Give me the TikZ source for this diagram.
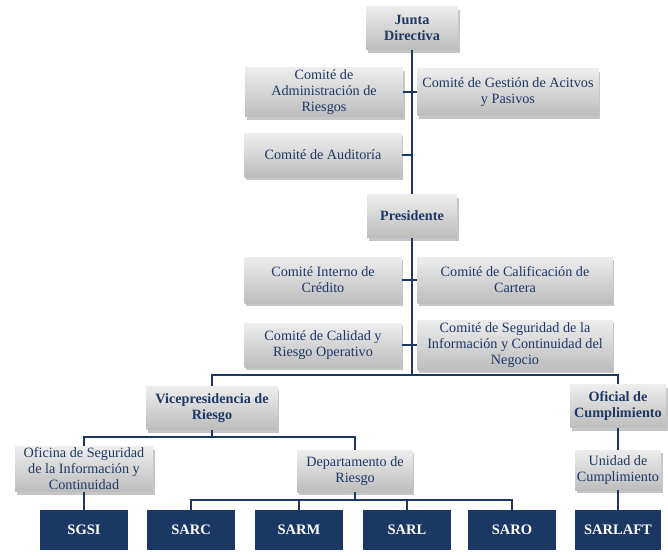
\documentclass[tikz,border=0pt]{standalone}
\usepackage{fontspec}
\setmainfont{Liberation Serif}
\usetikzlibrary{shadows}

\definecolor{azul}{HTML}{1F3864}
\definecolor{marino}{HTML}{1B3764}

\begin{document}
\begin{tikzpicture}[x=1pt, y=-1pt,
    comite/.style={top color=white!93!black, bottom color=white!74!black,
        drop shadow={shadow xshift=1.5pt, shadow yshift=-3pt, opacity=0.45},
        text=azul, align=center, inner sep=1pt,
        font=\fontsize{14.2}{16}\selectfont},
    jefe/.style={comite, font=\bfseries\fontsize{14.2}{16}\selectfont},
    sistema/.style={fill=marino, text=white, inner sep=1pt,
        minimum width=88pt, minimum height=40pt,
        font=\bfseries\fontsize{14.5}{16}\selectfont},
    linea/.style={draw=marino, line width=2.8pt}]

    \useasboundingbox (0,0) rectangle (668,555);

    % --- Junta y comites ---
    \node[jefe, minimum width=92pt, minimum height=43pt] (junta) at (412,28) {Junta\\Directiva};
    \node[comite, minimum width=158pt, minimum height=49pt] (adm) at (324,92) {Comité de\\Administración de\\Riesgos};
    \node[comite, minimum width=181pt, minimum height=47pt] (gestion) at (508,92) {Comité de Gestión de Acitvos\\y Pasivos};
    \node[comite, minimum width=157pt, minimum height=44pt] (auditoria) at (323,155) {Comité de Auditoría};

    % --- Presidencia y comites ---
    \node[jefe, minimum width=90pt, minimum height=43pt] (presidente) at (412,216) {Presidente};
    \node[comite, minimum width=157pt, minimum height=46pt] (interno) at (323,280) {Comité Interno de\\Crédito};
    \node[comite, minimum width=195pt, minimum height=46pt] (calificacion) at (515,280) {Comité de Calificación de\\Cartera};
    \node[comite, minimum width=157pt, minimum height=44pt] (calidad) at (323,345) {Comité de Calidad y\\Riesgo Operativo};
    \node[comite, minimum width=195pt, minimum height=50pt] (seguridad) at (515,345) {Comité de Seguridad de la\\Información y Continuidad del\\Negocio};

    % --- Segundo nivel ---
    \node[jefe, minimum width=131pt, minimum height=43pt] (vice) at (212,408) {Vicepresidencia de\\Riesgo};
    \node[jefe, minimum width=96pt, minimum height=43pt] (oficial) at (618,406) {Oficial de\\Cumplimiento};
    \node[comite, minimum width=138pt, minimum height=45pt] (oficina) at (84,469) {Oficina de Seguridad\\de la Información y\\Continuidad};
    \node[comite, minimum width=115pt, minimum height=42pt] (depto) at (355,471) {Departamento de\\Riesgo};
    \node[comite, minimum width=86pt, minimum height=40pt] (unidad) at (618,470) {Unidad de\\Cumplimiento};

    % --- Sistemas ---
    \node[sistema] (sgsi) at (84,530) {SGSI};
    \node[sistema] (sarc) at (191,530) {SARC};
    \node[sistema] (sarm) at (299,530) {SARM};
    \node[sistema] (sarl) at (407,530) {SARL};
    \node[sistema] (saro) at (512,530) {SARO};
    \node[sistema, minimum width=86pt] (sarlaft) at (618,530) {SARLAFT};

    % --- Puntos de las barras ---
    \coordinate (bus) at (412,375);
    \coordinate (vbus) at (212,437);
    \coordinate (dbus) at (355,500);

    % --- Conectores ---
    \draw[linea] (junta.south) -- (presidente.north);
    \draw[linea] (adm.east) -- (gestion.west);
    \draw[linea] (auditoria.east) -- (auditoria.east -| junta.south);
    \draw[linea] (presidente.south) -- (bus);
    \draw[linea] (interno.east) -- (calificacion.west);
    \draw[linea] (calidad.east) -- (seguridad.west);
    \draw[linea] (vice.north) |- (bus) -| (oficial.north);

    \draw[linea] (vice.south) -- (vbus);
    \draw[linea] (oficina.north) |- (vbus) -| (depto.north);
    \draw[linea] (oficina.south) -- (sgsi.north);
    \draw[linea] (depto.south) -- (dbus);
    \draw[linea] (sarc.north) |- (dbus) -| (saro.north);
    \draw[linea] (sarm.north) -- (sarm.north |- dbus);
    \draw[linea] (sarl.north) -- (sarl.north |- dbus);
    \draw[linea] (oficial.south) -- (unidad.north);
    \draw[linea] (unidad.south) -- (sarlaft.north);

\end{tikzpicture}
\end{document}
